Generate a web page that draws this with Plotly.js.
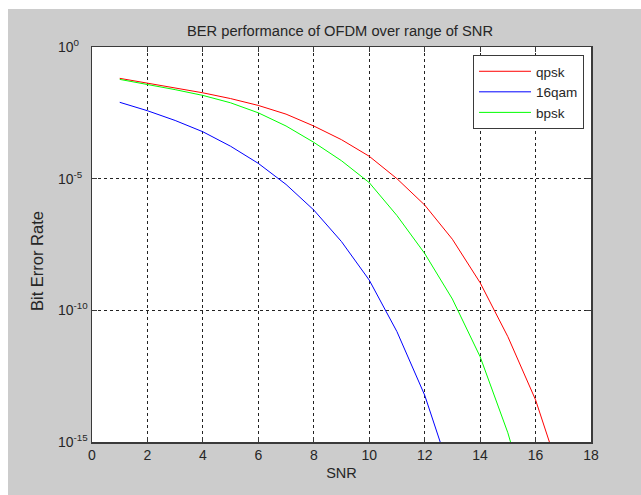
<!DOCTYPE html>
<html>
<head>
<meta charset="utf-8">
<script src="https://cdn.plot.ly/plotly-3.0.1.min.js"></script>
<style>html,body{margin:0;padding:0;background:#fff;}</style>
</head>
<body>
<div id="chart" style="width:641px;height:495px;"></div>
<script>
// SNR values (dB)
const snrQpsk = [1,2,3,4,5,6,7,8,9,10,11,12,13,14,15,16,17];
const berQpsk = [6.46e-2,4.27e-2,2.82e-2,1.82e-2,1.10e-2,6.03e-3,2.82e-3,1.0e-3,3.02e-4,7.08e-5,1.0e-5,1.0e-6,5.01e-8,1.12e-9,1.0e-11,3.98e-14,2.51e-17];

const snr16qam = [1,2,3,4,5,6,7,8,9,10,11,12,13];
const ber16qam = [7.94e-3,3.80e-3,1.62e-3,6.03e-4,1.70e-4,3.80e-5,6.03e-6,6.46e-7,4.07e-8,1.41e-9,1.55e-11,6.03e-14,3.98e-17];

const snrBpsk = [1,2,3,4,5,6,7,8,9,10,11,12,13,14,15,16];
const berBpsk = [5.89e-2,3.80e-2,2.40e-2,1.45e-2,7.59e-3,3.16e-3,1.0e-3,2.40e-4,4.79e-5,7.08e-6,3.98e-7,1.45e-8,2.69e-10,1.74e-12,2.24e-15,5.62e-19];

const seriesNames = ['qpsk','16qam','bpsk'];
const xTicks = [0,2,4,6,8,10,12,14,16,18];
const yTickVals = [1e-15,1e-10,1e-5,1];
const yTickExp = ['-15','-10','-5','0'];

const font = 'Liberation Sans, Arial, sans-serif';
const traces = [
  {x: snrQpsk, y: berQpsk, name: seriesNames[0], mode:'lines', line:{color:'#ff0000', width:1}},
  {x: snr16qam, y: ber16qam, name: seriesNames[1], mode:'lines', line:{color:'#0000ff', width:1}},
  {x: snrBpsk, y: berBpsk, name: seriesNames[2], mode:'lines', line:{color:'#00ff00', width:1}}
];

const W = 641, H = 495, L = 92, R = 50, T = 47, B = 53;
const pw = W - L - R, ph = H - T - B;
function px(x){ return (x - L)/pw; }
function py(y){ return (H - B - y)/ph; }

const axisCommon = {
  showline: true, linecolor: '#3a3a3a', linewidth: 1.5, mirror: 'ticks',
  ticks: 'inside', ticklen: 5, tickcolor: '#3a3a3a',
  showgrid: true, gridcolor: '#222', gridwidth: 1, griddash: '3px,3px',
  zeroline: false,
  tickfont: {family: font, size: 14, color: '#262626'}
};

const yLabelAnn = yTickVals.map((v, i) => ({
  text: '10<sup>' + yTickExp[i] + '</sup>', xref: 'paper', yref: 'y',
  x: px(56), y: Math.log10(v), xanchor: 'left', yanchor: 'middle', yshift: 1,
  showarrow: false, font: {family: font, size: 14, color: '#262626'}
}));

const layout = {
  width: W, height: H,
  margin: {l: L, r: R, t: T, b: B},
  paper_bgcolor: '#cccccc',
  plot_bgcolor: '#ffffff',
  title: {text: 'BER performance of OFDM over range of SNR', font: {family: font, size: 14.7, color: '#262626'},
          x: px(340), xanchor: 'center', y: 1 - 31/H, yanchor: 'middle', xref: 'paper'},
  xaxis: Object.assign({}, axisCommon, {
    range: [0, 18], tickvals: xTicks, ticktext: xTicks.map(String),
    title: {text: 'SNR', font: {family: font, size: 14.5, color: '#262626'}, standoff: 5}
  }),
  yaxis: Object.assign({}, axisCommon, {
    type: 'log', range: [-15, 0], tickvals: yTickVals, showticklabels: false
  }),
  showlegend: true,
  legend: {
    x: px(584), xanchor: 'right', y: py(55), yanchor: 'top',
    bgcolor: '#ffffff', bordercolor: '#3a3a3a', borderwidth: 1,
    itemwidth: 52, tracegroupgap: 0,
    font: {family: font, size: 13.5, color: '#262626'}
  },
  annotations: [
    {text: 'Bit Error Rate', xref: 'paper', yref: 'paper', x: px(37), y: py(261),
     xanchor: 'center', yanchor: 'middle', textangle: -90, showarrow: false,
     font: {family: font, size: 16.5, color: '#262626'}}
  ].concat(yLabelAnn),
  shapes: [
    {type:'rect', xref:'paper', yref:'paper', x0: px(0), x1: px(W), y0: py(0), y1: py(9), fillcolor:'#ffffff', line:{width:0}, layer:'below'},
    {type:'rect', xref:'paper', yref:'paper', x0: px(0), x1: px(8), y0: py(0), y1: py(H), fillcolor:'#ffffff', line:{width:0}, layer:'below'}
  ]
};

Plotly.newPlot('chart', traces, layout, {displayModeBar: false, staticPlot: true});
</script>
</body>
</html>
